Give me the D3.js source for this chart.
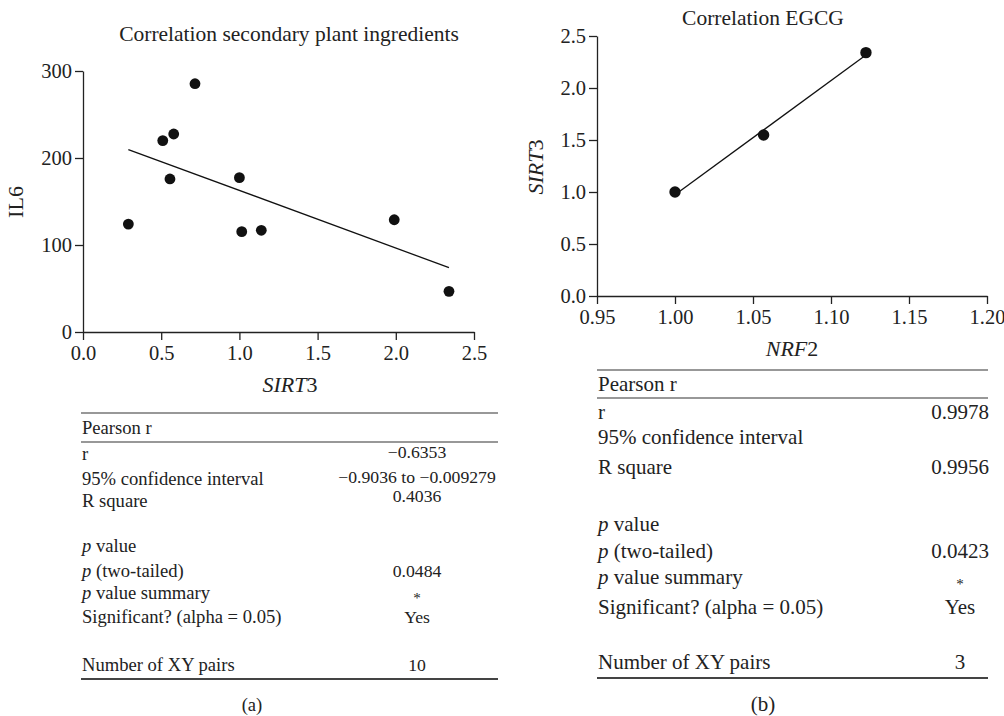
<!DOCTYPE html>
<html>
<head>
<meta charset="utf-8">
<script src="https://cdn.jsdelivr.net/npm/d3@7"></script>
<style>
body { margin: 0; background: #fff; }
svg { display: block; }
svg text { font-family: "Liberation Serif", "DejaVu Serif", serif; }
</style>
</head>
<body>
<div id="chart"></div>
<script>
// two correlation panels with their stats tables

// panel (a): SIRT3 vs IL6
const sirt3A = [0.29, 0.51, 0.58, 0.716, 0.556, 1.0, 1.015, 1.14, 1.99, 2.34]
const il6A = [124, 220, 227.6, 285.4, 175.9, 177.4, 115.3, 116.9, 129, 46.7]
const xTicksA = [0.0, 0.5, 1.0, 1.5, 2.0, 2.5]
const yTicksA = [0, 100, 200, 300]

// panel (b): NRF2 vs SIRT3
const nrf2B = [1.0, 1.0568, 1.1224]
const sirt3B = [1.0, 1.548, 2.34]
const xTicksB = [0.95, 1.00, 1.05, 1.10, 1.15, 1.20]
const yTicksB = [0.0, 0.5, 1.0, 1.5, 2.0, 2.5]

// table rows: [label, value]
const statsA = [
  ["r", "\u22120.6353"],
  ["95% confidence interval", "\u22120.9036 to \u22120.009279"],
  ["R square", "0.4036"],
  ["p value", ""],
  ["p (two-tailed)", "0.0484"],
  ["p value summary", "*"],
  ["Significant? (alpha = 0.05)", "Yes"],
  ["Number of XY pairs", "10"]
]
const statsB = [
  ["r", "0.9978"],
  ["95% confidence interval", ""],
  ["R square", "0.9956"],
  ["p value", ""],
  ["p (two-tailed)", "0.0423"],
  ["p value summary", "*"],
  ["Significant? (alpha = 0.05)", "Yes"],
  ["Number of XY pairs", "3"]
]

const svg = d3.select("#chart").append("svg")
  .attr("width", 1004).attr("height", 716)

function linearFit(xs, ys) {
  var mx = d3.mean(xs), my = d3.mean(ys)
  var sxy = 0, sxx = 0
  for (var i = 0; i < xs.length; i++) {
    sxy += (xs[i] - mx) * (ys[i] - my)
    sxx += (xs[i] - mx) * (xs[i] - mx)
  }
  var b = sxy / sxx
  return { slope: b, icept: my - b * mx }
}

function italicLabel(sel, main, rest) {
  sel.append("tspan").style("font-style", "italic").text(main)
  sel.append("tspan").text(rest)
}

function drawPanel(o) {
  var x = d3.scaleLinear().domain(o.xDom).range([o.left, o.right])
  var y = d3.scaleLinear().domain(o.yDom).range([o.bottom, o.top])
  var g = svg.append("g")

  var xAxis = g.append("g").attr("transform", "translate(0," + o.bottom + ")")
    .call(d3.axisBottom(x).tickValues(o.xTicks).tickFormat(d3.format(o.xFmt))
      .tickSize(8).tickSizeOuter(0).tickPadding(5))
  var yAxis = g.append("g").attr("transform", "translate(" + o.left + ",0)")
    .call(d3.axisLeft(y).tickValues(o.yTicks).tickFormat(d3.format(o.yFmt))
      .tickSize(8).tickSizeOuter(0).tickPadding(3))
  xAxis.attr("font-family", null).attr("font-size", o.tickFs)
  yAxis.attr("font-family", null).attr("font-size", o.tickFs)
  g.selectAll(".domain, .tick line").attr("stroke", "#222").attr("stroke-width", 1.3)
  g.selectAll(".tick text").attr("fill", "#222")
  xAxis.selectAll(".tick text").attr("dy", "0.72em")
  yAxis.selectAll(".tick text").attr("dy", "0.34em")

  // fit line
  var fit = linearFit(o.xs, o.ys)
  var x0 = d3.min(o.xs), x1 = d3.max(o.xs)
  g.append("line")
    .attr("x1", x(x0)).attr("y1", y(fit.icept + fit.slope * x0))
    .attr("x2", x(x1)).attr("y2", y(fit.icept + fit.slope * x1))
    .attr("stroke", "#111").attr("stroke-width", 1.3)

  g.selectAll("circle.pt").data(o.xs).enter().append("circle")
    .attr("cx", function (d) { return x(d) })
    .attr("cy", function (d, i) { return y(o.ys[i]) })
    .attr("r", o.rad).attr("fill", "#111")

  g.append("text").attr("x", o.titleX).attr("y", o.titleY)
    .attr("text-anchor", "middle").attr("font-size", o.titleFs).attr("fill", "#222")
    .text(o.title)

  var xl = g.append("text").attr("x", o.xLabX).attr("y", o.xLabY)
    .attr("text-anchor", "middle").attr("font-size", o.labFs).attr("fill", "#222")
  italicLabel(xl, o.xLab[0], o.xLab[1])

  var yl = g.append("text")
    .attr("transform", "translate(" + o.yLabX + "," + o.yLabY + ") rotate(-90)")
    .attr("text-anchor", "middle").attr("font-size", o.labFs).attr("fill", "#222")
  italicLabel(yl, o.yLab[0], o.yLab[1])
}

function drawTable(o) {
  var g = svg.append("g").attr("font-size", o.fs).attr("fill", "#222")
  g.append("line").attr("x1", o.x0).attr("x2", o.x1).attr("y1", o.lineTop).attr("y2", o.lineTop)
    .attr("stroke", "#333").attr("stroke-width", 1.2)
  g.append("line").attr("x1", o.x0).attr("x2", o.x1).attr("y1", o.lineHead).attr("y2", o.lineHead)
    .attr("stroke", "#333").attr("stroke-width", 1.2)
  g.append("line").attr("x1", o.x0).attr("x2", o.x1).attr("y1", o.lineBot).attr("y2", o.lineBot)
    .attr("stroke", "#444").attr("stroke-width", 2)
  g.append("text").attr("x", o.x0 + 1).attr("y", o.headY).text("Pearson r")

  o.rows.forEach(function (row, i) {
    var t = g.append("text").attr("x", o.x0 + 1).attr("y", o.rowY[i])
    if (row[0].indexOf("p ") === 0) {
      t.append("tspan").style("font-style", "italic").text("p")
      t.append("tspan").text(row[0].slice(1))
    } else {
      t.text(row[0])
    }
    if (row[1] === "*") {
      g.append("text").attr("x", o.valX).attr("y", o.valY[i] + o.starDy)
        .attr("text-anchor", "middle").attr("font-size", 15).text(row[1])
    } else if (row[1] !== "") {
      g.append("text").attr("x", o.valX).attr("y", o.valY[i])
        .attr("text-anchor", "middle").attr("font-size", o.valFs).text(row[1])
    }
  })
  g.append("text").attr("x", o.capX).attr("y", o.capY).attr("text-anchor", "middle").text(o.cap)
}

drawPanel({
  xs: sirt3A, ys: il6A, xDom: [0, 2.5], yDom: [0, 300],
  xTicks: xTicksA, yTicks: yTicksA, xFmt: ".1f", yFmt: "d",
  left: 83, right: 474, top: 71, bottom: 332, rad: 5.4,
  tickFs: 20.5, titleFs: 21.5, labFs: 22,
  title: "Correlation secondary plant ingredients", titleX: 289, titleY: 40.5,
  xLab: ["SIRT", "3"], xLabX: 290, xLabY: 392,
  yLab: ["", "IL6"], yLabX: 23, yLabY: 202
})

drawPanel({
  xs: nrf2B, ys: sirt3B, xDom: [0.95, 1.2], yDom: [0, 2.5],
  xTicks: xTicksB, yTicks: yTicksB, xFmt: ".2f", yFmt: ".1f",
  left: 597, right: 987, top: 36, bottom: 296, rad: 5.7,
  tickFs: 20.5, titleFs: 21.5, labFs: 22,
  title: "Correlation EGCG", titleX: 763, titleY: 24.5,
  xLab: ["NRF", "2"], xLabX: 792, xLabY: 356,
  yLab: ["SIRT", "3"], yLabX: 543, yLabY: 167
})

drawTable({
  rows: statsA, fs: 18.6, valFs: 17.7, starDy: 4, x0: 81, x1: 498, valX: 417,
  lineTop: 413, lineHead: 442, lineBot: 679, headY: 434,
  rowY: [460, 485, 507, 552, 577, 599, 623, 671],
  valY: [458, 483, 502, 552, 577, 599, 623, 671],
  cap: "(a)", capX: 252, capY: 711
})

drawTable({
  rows: statsB, fs: 21, valFs: 21, starDy: 5, x0: 597, x1: 988, valX: 960,
  lineTop: 370, lineHead: 398, lineBot: 678, headY: 391,
  rowY: [419, 444, 474, 531, 558, 584, 614, 669],
  valY: [419, 444, 474, 531, 558, 584, 614, 669],
  cap: "(b)", capX: 763, capY: 711
})
</script>
</body>
</html>
